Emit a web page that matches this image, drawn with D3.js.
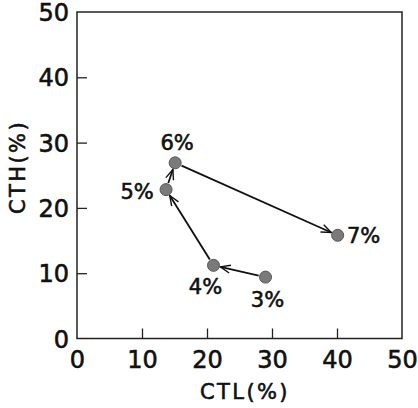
<!DOCTYPE html>
<html lang="en">
<head>
    <meta charset="UTF-8">
    <title>CTH vs CTL</title>
    <script src="https://d3js.org/d3.v7.min.js"></script>
    <style>
        body { margin: 0; background: #fff; }
        text { font-family: "DejaVu Sans", "Liberation Sans", sans-serif; fill: #111; stroke: #111; stroke-width: 0.6px; }
    </style>
</head>
<body>
    <div id="chart"></div>

    <script>
        // data ---------------------------------------------------------------
        const ctl = [29.0, 21.0, 13.7, 15.1, 40.1];
        const cth = [9.4, 11.2, 22.8, 26.9, 15.8];
        const pointLabels = ["3%", "4%", "5%", "6%", "7%"];
        const tickValues = [0, 10, 20, 30, 40, 50];

        // where each label sits relative to its point (px)
        const labelOffset = [[2, 22], [-8, 21], [-29, 2], [2, -20], [26, 0]];

        const svg = d3.select("div#chart").append("svg")
            .attr("width", 418)
            .attr("height", 408);

        const corner = {left: 77, right: 402, top: 12, bottom: 338.5};

        const xScale = d3.scaleLinear().domain([0, 50]).range([corner.left, corner.right]);
        const yScale = d3.scaleLinear().domain([0, 50]).range([corner.bottom, corner.top]);

        // axes, ticks pointing inwards -------------------------------------
        const xAxis = svg.append("g")
            .attr("transform", `translate(0,${corner.bottom})`)
            .call(d3.axisBottom(xScale).tickValues(tickValues).tickSizeInner(-10).tickSizeOuter(0).tickPadding(12));
        const yAxis = svg.append("g")
            .attr("transform", `translate(${corner.left},0)`)
            .call(d3.axisLeft(yScale).tickValues(tickValues).tickSizeInner(-10).tickSizeOuter(0).tickPadding(8));

        [xAxis, yAxis].forEach(ax => {
            ax.select(".domain").remove();
            ax.selectAll(".tick line").attr("stroke", "#222").attr("stroke-width", 1.3);
            ax.selectAll(".tick text")
                .attr("font-family", "DejaVu Sans, sans-serif")
                .attr("font-size", 24)
                .attr("fill", "#111");
        });
        xAxis.selectAll(".tick line").filter(d => d === 0 || d === 50).remove();
        yAxis.selectAll(".tick line").filter(d => d === 0 || d === 50).remove();
        yAxis.selectAll(".tick text").attr("dy", "0.36em");

        // frame
        svg.append("rect")
            .attr("x", corner.left)
            .attr("y", corner.top)
            .attr("width", corner.right - corner.left)
            .attr("height", corner.bottom - corner.top)
            .attr("fill", "none")
            .attr("stroke", "#222")
            .attr("stroke-width", 1.5);

        // axis titles
        svg.append("text")
            .attr("x", 245)
            .attr("y", 399)
            .attr("text-anchor", "middle")
            .attr("font-size", 21)
            .attr("letter-spacing", 2.4)
            .text("CTL(%)");
        svg.append("text")
            .attr("transform", "translate(25,167) rotate(-90)")
            .attr("text-anchor", "middle")
            .attr("font-size", 21)
            .attr("letter-spacing", 2.4)
            .text("CTH(%)");

        // open arrow head
        svg.append("defs").append("marker")
            .attr("id", "arrow")
            .attr("viewBox", "-12 -6 14 12")
            .attr("refX", 0)
            .attr("refY", 0)
            .attr("markerWidth", 14)
            .attr("markerHeight", 12)
            .attr("markerUnits", "userSpaceOnUse")
            .attr("orient", "auto")
            .append("path")
            .attr("d", "M-10,-4 L0,0 L-10,4")
            .attr("fill", "none")
            .attr("stroke", "#111")
            .attr("stroke-width", 1.4);

        const r = 6;
        for (let i = 0; i < ctl.length - 1; i++) {
            const x1 = xScale(ctl[i]), y1 = yScale(cth[i]);
            const x2 = xScale(ctl[i + 1]), y2 = yScale(cth[i + 1]);
            const len = Math.hypot(x2 - x1, y2 - y1);
            const ux = (x2 - x1) / len, uy = (y2 - y1) / len;
            svg.append("line")
                .attr("x1", x1 + ux * (r + 1))
                .attr("y1", y1 + uy * (r + 1))
                .attr("x2", x2 - ux * (r + 1))
                .attr("y2", y2 - uy * (r + 1))
                .attr("stroke", "#111")
                .attr("stroke-width", 1.8)
                .attr("marker-end", "url(#arrow)");
        }

        ctl.forEach((d, i) => {
            svg.append("circle")
                .attr("cx", xScale(d))
                .attr("cy", yScale(cth[i]))
                .attr("r", r)
                .attr("fill", "#7a7a7a")
                .attr("stroke", "#555")
                .attr("stroke-width", 1);
            svg.append("text")
                .attr("x", xScale(d) + labelOffset[i][0])
                .attr("y", yScale(cth[i]) + labelOffset[i][1])
                .attr("dy", "0.36em")
                .attr("text-anchor", "middle")
                .attr("font-size", 21)
                .text(pointLabels[i]);
        });
    </script>
</body>
</html>
